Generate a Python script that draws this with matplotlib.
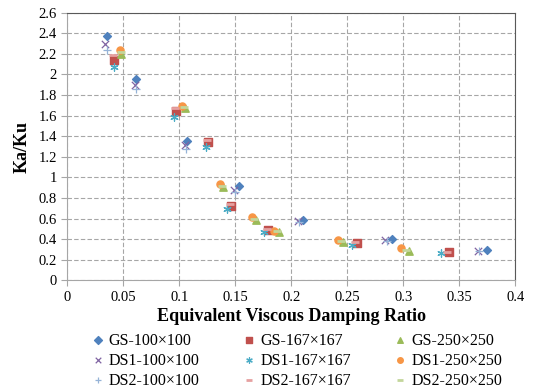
import matplotlib
matplotlib.use("Agg")
import matplotlib.pyplot as plt

plt.rcParams['font.family'] = ['Liberation Serif', 'DejaVu Serif']

# damping ratio (x) and Ka/Ku (y) for each series
gs100_x = [0.035, 0.061, 0.107, 0.153, 0.2105, 0.290, 0.375]
gs100_y = [2.37, 1.957, 1.356, 0.917, 0.587, 0.402, 0.296]
gs167_x = [0.042, 0.0973, 0.126, 0.146, 0.179, 0.259, 0.341]
gs167_y = [2.145, 1.647, 1.343, 0.722, 0.49, 0.36, 0.273]
gs250_x = [0.048, 0.1047, 0.1394, 0.1685, 0.189, 0.246, 0.305]
gs250_y = [2.20, 1.67, 0.91, 0.587, 0.473, 0.37, 0.289]

ds1_100_x = [0.034, 0.060, 0.105, 0.149, 0.2064, 0.2836, 0.367]
ds1_100_y = [2.30, 1.90, 1.314, 0.878, 0.577, 0.393, 0.289]
ds1_167_x = [0.042, 0.095, 0.1234, 0.1426, 0.176, 0.2545, 0.334]
ds1_167_y = [2.07, 1.59, 1.30, 0.69, 0.467, 0.344, 0.264]
ds1_250_x = [0.047, 0.1027, 0.1365, 0.1646, 0.1848, 0.2417, 0.2975]
ds1_250_y = [2.24, 1.69, 0.936, 0.613, 0.483, 0.393, 0.318]

ds2_100_x = [0.035, 0.061, 0.106, 0.150, 0.207, 0.285, 0.368]
ds2_100_y = [2.236, 1.855, 1.28, 0.86, 0.565, 0.385, 0.285]
ds2_167_x = [0.041, 0.096, 0.125, 0.145, 0.178, 0.257, 0.339]
ds2_167_y = [2.19, 1.67, 1.36, 0.74, 0.50, 0.37, 0.28]
ds2_250_x = [0.048, 0.104, 0.138, 0.167, 0.187, 0.244, 0.302]
ds2_250_y = [2.22, 1.68, 0.92, 0.60, 0.478, 0.38, 0.30]

fig = plt.figure(figsize=(5.33, 3.89), dpi=100)
ax = fig.add_axes([0.1263, 0.279, 0.8405, 0.6885])

ax.grid(True, color='#a6a6a6', linestyle=(0, (4, 2)), linewidth=0.8)
ax.set_axisbelow(True)

h = []
h.append(ax.scatter(gs100_x, gs100_y, marker='D', s=16, color='#4f81bd', label='GS-100×100', zorder=3))
h.append(ax.scatter(gs167_x, gs167_y, marker='s', s=28, color='#c0504d', label='GS-167×167', zorder=3))
h.append(ax.scatter(gs250_x, gs250_y, marker='^', s=28, color='#9bbb59', label='GS-250×250', zorder=3))
h.append(ax.scatter(ds1_100_x, ds1_100_y, marker='x', s=28, color='#8064a2', linewidths=0.9, label='DS1-100×100', zorder=3))
h.append(ax.scatter(ds1_167_x, ds1_167_y, marker=(6, 2, 0), s=28, color='#4bacc6', linewidths=0.9, label='DS1-167×167', zorder=3))
h.append(ax.scatter(ds1_250_x, ds1_250_y, marker='o', s=26, color='#f79646', label='DS1-250×250', zorder=3))
h.append(ax.scatter(ds2_100_x, ds2_100_y, marker='+', s=36, color='#95b3d7', linewidths=0.9, label='DS2-100×100', zorder=3))
h.append(ax.scatter(ds2_167_x, ds2_167_y, marker='_', s=28, color='#e6a0a0', linewidths=2, label='DS2-167×167', zorder=3))
h.append(ax.scatter(ds2_250_x, ds2_250_y, marker='_', s=36, color='#c3d69b', linewidths=2, label='DS2-250×250', zorder=3))

ax.set_xlim(0, 0.4)
ax.set_ylim(0, 2.6)
ax.set_xticks([0, 0.05, 0.1, 0.15, 0.2, 0.25, 0.3, 0.35, 0.4])
ax.set_xticklabels(['0', '0.05', '0.1', '0.15', '0.2', '0.25', '0.3', '0.35', '0.4'])
ax.set_yticks([i * 0.2 for i in range(14)])
ax.set_yticklabels(['0', '0.2', '0.4', '0.6', '0.8', '1', '1.2', '1.4', '1.6', '1.8', '2', '2.2', '2.4', '2.6'])
ax.tick_params(labelsize=10.5, length=4, color='#a6a6a6', direction='out')

for side in ['left', 'bottom']:
    ax.spines[side].set_color('#a6a6a6')
for side in ['top', 'right']:
    ax.spines[side].set_color('#595959')

ax.set_xlabel('Equivalent Viscous Damping Ratio', fontsize=13, fontweight='bold', labelpad=3)
ax.set_ylabel('Ka/Ku', fontsize=13, fontweight='bold', labelpad=6)

# legend reads row by row in the reference
order = [0, 3, 6, 1, 4, 7, 2, 5, 8]
leg = fig.legend([h[i] for i in order], [h[i].get_label() for i in order],
                 loc='upper left', bbox_to_anchor=(0.165, 0.153), ncol=3, frameon=False,
                 fontsize=11.5, handletextpad=0.3, columnspacing=2.7, labelspacing=0.25,
                 handlelength=0.8, scatterpoints=1, borderpad=0.2, borderaxespad=0)
for lh in leg.legend_handles:
    lh.set_sizes([16])

fig.savefig('out.png', dpi=100)
